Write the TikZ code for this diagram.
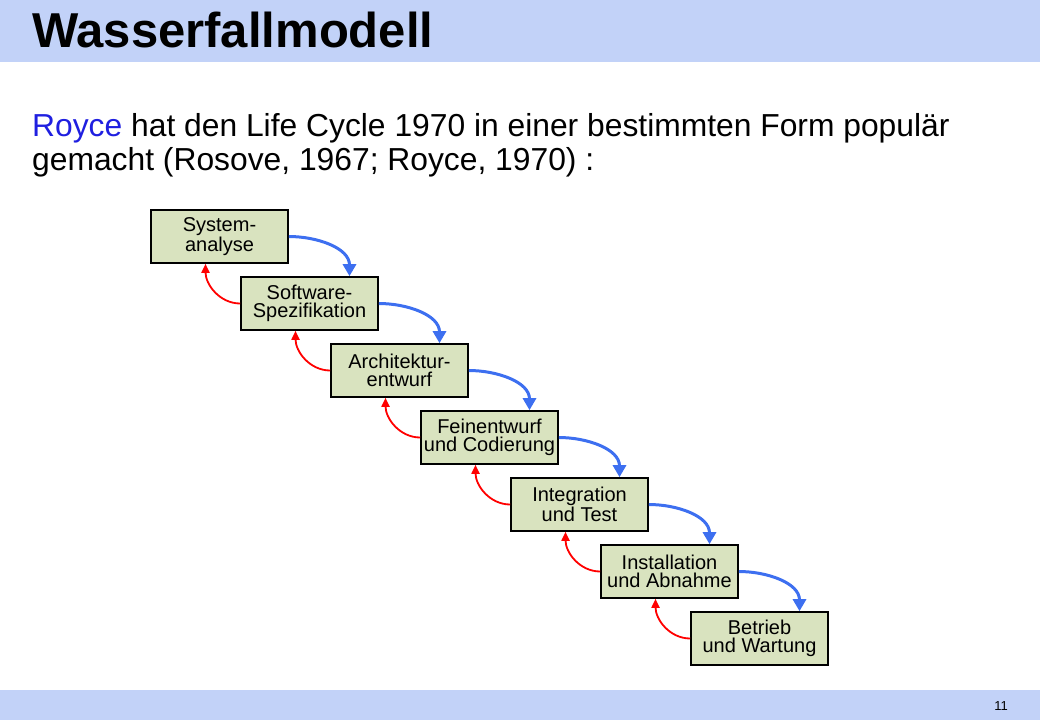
\documentclass[tikz,border=0pt]{standalone}
\usepackage{fontspec}
\setmainfont{Liberation Sans}
\usetikzlibrary{arrows.meta}
\definecolor{band}{HTML}{C2D2F8}
\definecolor{boxfill}{HTML}{D9E3BF}
\definecolor{bluearr}{HTML}{3D6FF0}
\definecolor{royce}{HTML}{1F1FE0}
\tikzset{
  phase/.style={draw=black,line width=1.6pt,fill=boxfill,minimum width=137pt,minimum height=53pt,inner sep=0pt,align=center,font=\fontsize{20}{18}\selectfont},
  down/.style={draw=bluearr,line width=3pt,-{Triangle[length=12pt,width=13pt]}},
  up/.style={draw=red,line width=1.8pt,-{Triangle[length=9pt,width=8pt]}}
}
\begin{document}
\begin{tikzpicture}[x=1pt,y=-1pt]
\useasboundingbox (0,0) rectangle (1040,720);
\fill[band] (0,0) rectangle (1040,62);
\fill[band] (0,690) rectangle (1040,720);
\node[anchor=base west,inner sep=0pt,font=\bfseries\fontsize{49}{49}\selectfont] (title) at (32,47) {Wasserfallmodell};
\node[anchor=base west,inner sep=0pt,font=\fontsize{31.8}{33}\selectfont] (l1) at (32,136) {\textcolor{royce}{Royce} hat den Life Cycle 1970 in einer bestimmten Form populär};
\node[anchor=base west,inner sep=0pt,font=\fontsize{31.8}{33}\selectfont] (l2) at (32,170) {gemacht (Rosove, 1967; Royce, 1970) :};
\node[inner sep=0pt,font=\fontsize{13}{13}\selectfont] (pg) at (1001,706) {11};
\foreach \i/\t in {0/{System-\\analyse},1/{Software-\\Spezifikation},2/{Architektur-\\entwurf},3/{Feinentwurf\\und Codierung},4/{Integration\\und Test},5/{Installation\\und Abnahme},6/{Betrieb\\und Wartung}}{
  \node[phase] (b\i) at ({219.5+90*\i},{236.5+67*\i}) {\t};
}
\foreach \i [evaluate=\i as \j using int(\i+1)] in {0,...,5}{
  \draw[down] (b\i.east) to[out=0,in=90,looseness=1] ([xshift=40pt]b\j.north);
  \draw[up] (b\j.west) to[out=180,in=-90,looseness=1] ([xshift=-14pt]b\i.south);
}
\end{tikzpicture}
\end{document}
